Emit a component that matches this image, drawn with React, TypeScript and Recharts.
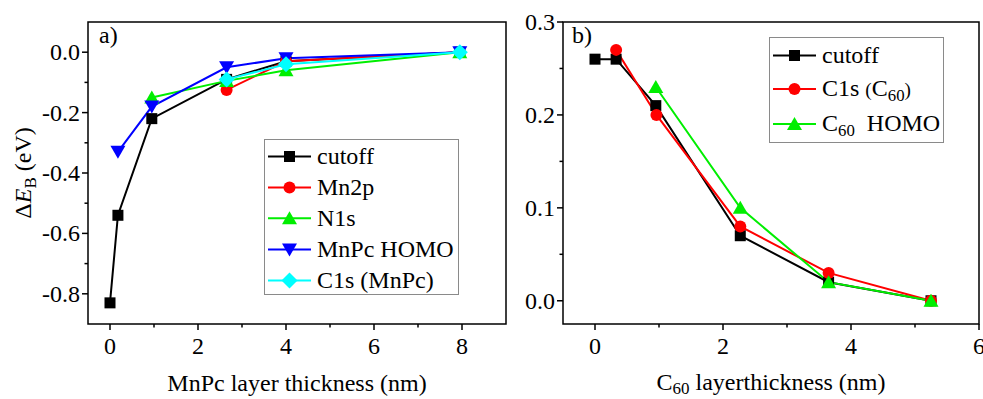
import React from 'react';
import { LineChart, Line, XAxis, YAxis, ReferenceArea, Legend } from 'recharts';

const FONT = '"Liberation Serif", "Times New Roman", serif';

// panel a) MnPc layer thickness (nm) vs shift (eV)
const aCutoffX = [0, 0.18, 0.95, 2.65, 4, 7.95];
const aCutoffY = [-0.83, -0.54, -0.22, -0.09, -0.03, 0];
const aMn2pX = [2.65, 4, 7.95];
const aMn2pY = [-0.125, -0.03, 0];
const aN1sX = [0.95, 2.65, 4, 7.95];
const aN1sY = [-0.15, -0.095, -0.06, 0];
const aHomoX = [0.18, 0.95, 2.65, 4, 7.95];
const aHomoY = [-0.33, -0.18, -0.05, -0.02, 0];
const aC1sX = [2.65, 4, 7.95];
const aC1sY = [-0.09, -0.04, 0];

// panel b) C60 layer thickness (nm)
const bCutoffX = [0, 0.33, 0.95, 2.27, 3.65, 5.25];
const bCutoffY = [0.26, 0.26, 0.21, 0.07, 0.02, 0];
const bC1sX = [0.33, 0.96, 2.27, 3.65, 5.25];
const bC1sY = [0.27, 0.2, 0.08, 0.03, 0];
const bHomoX = [0.95, 2.27, 3.65, 5.25];
const bHomoY = [0.23, 0.1, 0.02, 0];

const aXDomain = [-0.5, 9];
const aYDomain = [-0.9, 0.1];
const bXDomain = [-0.5, 6];
const bYDomain = [-0.025, 0.3];

const aXTicks = [0, 1, 2, 3, 4, 5, 6, 7, 8];
const aYTicks = [-0.8, -0.7, -0.6, -0.5, -0.4, -0.3, -0.2, -0.1, 0];
const bXTicks = [0, 1, 2, 3, 4, 5, 6];
const bYTicks = [0, 0.05, 0.1, 0.15, 0.2, 0.25, 0.3];

const zip = (xs: number[], ys: number[]) => xs.map((x, i) => ({ x, y: ys[i] }));

type Shape = 'square' | 'circle' | 'up' | 'down' | 'diamond';

const Marker = ({ shape, cx, cy, fill }: { shape: Shape; cx: number; cy: number; fill: string }) => {
  if (cx == null || cy == null) return <g />;
  switch (shape) {
    case 'square':
      return <rect x={cx - 5.5} y={cy - 5.5} width={11} height={11} fill={fill} />;
    case 'circle':
      return <circle cx={cx} cy={cy} r={6} fill={fill} />;
    case 'up':
      return <polygon points={`${cx},${cy - 7} ${cx + 7.5},${cy + 6} ${cx - 7.5},${cy + 6}`} fill={fill} />;
    case 'down':
      return <polygon points={`${cx},${cy + 7} ${cx + 7.5},${cy - 6} ${cx - 7.5},${cy - 6}`} fill={fill} />;
    default:
      return <polygon points={`${cx},${cy - 8} ${cx + 8},${cy} ${cx},${cy + 8} ${cx - 8},${cy}`} fill={fill} />;
  }
};

interface Series {
  key: string;
  name: React.ReactNode;
  color: string;
  shape: Shape;
  data: { x: number; y: number }[];
}

const sub = (s: string) => (
  <span style={{ fontSize: '0.7em', position: 'relative', top: '0.35em' }}>{s}</span>
);

const seriesA: Series[] = [
  { key: 'cutoff', name: 'cutoff', color: '#000000', shape: 'square', data: zip(aCutoffX, aCutoffY) },
  { key: 'mn2p', name: 'Mn2p', color: '#ff0000', shape: 'circle', data: zip(aMn2pX, aMn2pY) },
  { key: 'n1s', name: 'N1s', color: '#00ee00', shape: 'up', data: zip(aN1sX, aN1sY) },
  { key: 'homo', name: 'MnPc HOMO', color: '#0000ff', shape: 'down', data: zip(aHomoX, aHomoY) },
  { key: 'c1s', name: 'C1s (MnPc)', color: '#00ffff', shape: 'diamond', data: zip(aC1sX, aC1sY) },
];

const seriesB: Series[] = [
  { key: 'cutoff', name: 'cutoff', color: '#000000', shape: 'square', data: zip(bCutoffX, bCutoffY) },
  {
    key: 'c1s',
    name: (
      <>
        C1s <span style={{ fontSize: '0.8em' }}>(</span>C{sub('60')}<span style={{ fontSize: '0.8em' }}>)</span>
      </>
    ),
    color: '#ff0000',
    shape: 'circle',
    data: zip(bC1sX, bC1sY),
  },
  {
    key: 'homo',
    name: (
      <>
        C{sub('60')}&nbsp;&nbsp;HOMO
      </>
    ),
    color: '#00ee00',
    shape: 'up',
    data: zip(bHomoX, bHomoY),
  },
];

const isMajor = (v: number, step: number) => Math.abs(Math.round(v / step) - v / step) < 1e-6;

const makeXTick = (step: number, digits: number) => (props: any) => {
  const { x, y, payload } = props;
  const major = isMajor(payload.value, step);
  return (
    <g>
      <line x1={x} x2={x} y1={y} y2={y + (major ? 6 : 3.5)} stroke="#000" strokeWidth={1.5} />
      {major && (
        <text x={x} y={y + 30} textAnchor="middle" fontFamily={FONT} fontSize={24} fill="#000">
          {payload.value.toFixed(digits)}
        </text>
      )}
    </g>
  );
};

const makeYTick = (step: number) => (props: any) => {
  const { x, y, payload } = props;
  const major = isMajor(payload.value, step);
  return (
    <g>
      <line x1={x} x2={x - (major ? 6 : 3.5)} y1={y} y2={y} stroke="#000" strokeWidth={1.5} />
      {major && (
        <text x={x - 8} y={y + 8} textAnchor="end" fontFamily={FONT} fontSize={24} fill="#000">
          {payload.value.toFixed(1)}
        </text>
      )}
    </g>
  );
};

const makeLegend = (series: Series[], rowH: number[]) => () => (
  <div style={{ paddingTop: 1, fontFamily: FONT, fontSize: 24, color: '#000' }}>
    {series.map((s, i) => (
      <div key={s.key} style={{ display: 'flex', alignItems: 'center', height: rowH[i], lineHeight: `${rowH[i]}px` }}>
        <svg width={52} height={rowH[i]} style={{ flex: 'none' }}>
          <line x1={3} x2={46} y1={rowH[i] / 2} y2={rowH[i] / 2} stroke={s.color} strokeWidth={2} />
          <Marker shape={s.shape} cx={24.5} cy={rowH[i] / 2} fill={s.color} />
        </svg>
        <span style={{ whiteSpace: 'nowrap' }}>{s.name}</span>
      </div>
    ))}
  </div>
);

const renderLines = (series: Series[]) =>
  series.map((s) => (
    <Line
      key={s.key}
      data={s.data}
      dataKey="y"
      type="linear"
      stroke={s.color}
      strokeWidth={2}
      isAnimationActive={false}
      activeDot={false}
      dot={(p: any) => <Marker key={`${s.key}-${p.index}`} shape={s.shape} cx={p.cx} cy={p.cy} fill={s.color} />}
    />
  ));

const frameStyle = { fill: 'none', fillOpacity: 0, stroke: '#000', strokeWidth: 1.5 };

export default function App() {
  return (
    <div style={{ position: 'absolute', left: 0, top: 0, width: 983, height: 399, background: '#fff', fontFamily: FONT }}>
      <div style={{ position: 'absolute', left: 0, top: 0 }}>
        <LineChart width={515} height={399} margin={{ top: 22, right: 9, bottom: 15, left: 28 }}>
          <XAxis
            type="number"
            dataKey="x"
            domain={aXDomain}
            ticks={aXTicks}
            interval={0}
            allowDataOverflow
            height={60}
            axisLine={false}
            tickLine={false}
            tickSize={0}
            tickMargin={0}
            tick={makeXTick(2, 0)}
            label={{
              content: (p: any) => {
                const vb = p.viewBox;
                return (
                  <text x={vb.x + vb.width / 2} y={vb.y + 67} textAnchor="middle" fontFamily={FONT} fontSize={24} fill="#000">
                    MnPc layer thickness (nm)
                  </text>
                );
              },
            }}
          />
          <YAxis
            type="number"
            domain={aYDomain}
            ticks={aYTicks}
            interval={0}
            allowDataOverflow
            width={60}
            axisLine={false}
            tickLine={false}
            tickSize={0}
            tickMargin={0}
            tick={makeYTick(0.2)}
            label={{
              content: (p: any) => {
                const vb = p.viewBox;
                const cy = vb.y + vb.height / 2;
                return (
                  <text transform={`translate(${vb.x + 3}, ${cy}) rotate(-90)`} textAnchor="middle" fontFamily={FONT} fontSize={24} fill="#000">
                    Δ<tspan fontStyle="italic">E</tspan>
                    <tspan fontSize={17} dy={5}>B</tspan>
                    <tspan dy={-5}> (eV)</tspan>
                  </text>
                );
              },
            }}
          />
          <ReferenceArea x1={aXDomain[0]} x2={aXDomain[1]} y1={aYDomain[0]} y2={aYDomain[1]} {...frameStyle} ifOverflow="visible" />
          {renderLines(seriesA)}
          <Legend
            layout="vertical"
            align="center"
            verticalAlign="middle"
            content={makeLegend(seriesA, [31, 31, 30.5, 31, 31])}
            wrapperStyle={{ left: 264, top: 139, width: 195, height: 156, border: '1px solid #8a8a8a', background: '#fff', boxSizing: 'border-box' }}
          />
          <text x={99} y={43} fontFamily={FONT} fontSize={24} fill="#000">a)</text>
        </LineChart>
      </div>
      <div style={{ position: 'absolute', left: 515, top: 0 }}>
        <LineChart width={468} height={399} margin={{ top: 22, right: 4, bottom: 15, left: 0 }}>
          <XAxis
            type="number"
            dataKey="x"
            domain={bXDomain}
            ticks={bXTicks}
            interval={0}
            allowDataOverflow
            height={60}
            axisLine={false}
            tickLine={false}
            tickSize={0}
            tickMargin={0}
            tick={makeXTick(2, 0)}
            label={{
              content: (p: any) => {
                const vb = p.viewBox;
                return (
                  <text x={vb.x + vb.width / 2} y={vb.y + 66} textAnchor="middle" fontFamily={FONT} fontSize={24} fill="#000">
                    C<tspan fontSize={17} dy={4}>60</tspan>
                    <tspan dy={-4}> layerthickness (nm)</tspan>
                  </text>
                );
              },
            }}
          />
          <YAxis
            type="number"
            domain={bYDomain}
            ticks={bYTicks}
            interval={0}
            allowDataOverflow
            width={48}
            axisLine={false}
            tickLine={false}
            tickSize={0}
            tickMargin={0}
            tick={makeYTick(0.1)}
          />
          <ReferenceArea x1={bXDomain[0]} x2={bXDomain[1]} y1={bYDomain[0]} y2={bYDomain[1]} {...frameStyle} ifOverflow="visible" />
          {renderLines(seriesB)}
          <Legend
            layout="vertical"
            align="center"
            verticalAlign="middle"
            content={makeLegend(seriesB, [33, 34, 36])}
            wrapperStyle={{ left: 254, top: 37, width: 175, height: 106, border: '1px solid #8a8a8a', background: '#fff', boxSizing: 'border-box' }}
          />
          <text x={57} y={43} fontFamily={FONT} fontSize={24} fill="#000">b)</text>
        </LineChart>
      </div>
    </div>
  );
}
